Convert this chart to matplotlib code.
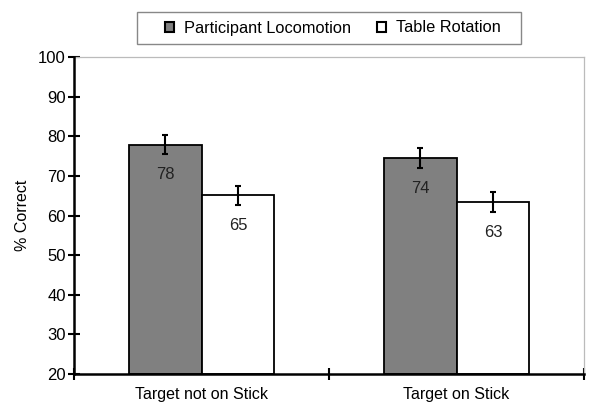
import numpy as np
import matplotlib.pyplot as plt
from matplotlib.patches import Rectangle

plt.rcParams['font.family'] = ['Liberation Sans', 'DejaVu Sans']

conditions = ['Target not on Stick', 'Target on Stick']
series = ['Participant Locomotion', 'Table Rotation']
locomotion = [77.9, 74.5]
rotation = [65.1, 63.4]
locomotion_err = [2.3, 2.5]
rotation_err = [2.4, 2.5]
colors = ['#808080', 'white']

W, H = 590, 405
fig = plt.figure(figsize=(W / 100, H / 100), dpi=100)
ax = fig.add_axes([74 / W, 1 - 374 / H, 510 / W, 317 / H])

x = np.arange(len(conditions)) + 0.5
w = 0.286
for vals, errs, col, off in [(locomotion, locomotion_err, colors[0], -w / 2),
                             (rotation, rotation_err, colors[1], w / 2)]:
    ax.bar(x + off, np.array(vals) - 20, w, bottom=20, color=col,
           edgecolor='black', linewidth=1.3, zorder=2)
    ax.errorbar(x + off, vals, yerr=errs, fmt='none', ecolor='black',
                elinewidth=1.5, capsize=2.5, capthick=1.5, zorder=3)
    for xi, v in zip(x + off, vals):
        ax.text(xi, v - 7.6, '%.0f' % v, ha='center', va='center',
                fontsize=12, color='#222222', zorder=4)

ax.set_xlim(0, 2)
ax.set_ylim(20, 100)
ax.set_yticks(np.arange(20, 101, 10))
ax.set_xticks([0, 1, 2])
ax.set_xticklabels([])
ax.set_xticks(x, minor=True)
ax.set_xticklabels(conditions, minor=True)
ax.tick_params(axis='x', which='minor', length=0, pad=9, labelsize=11.5)
ax.tick_params(axis='x', which='major', direction='inout', length=8, width=1.5)
ax.tick_params(axis='y', direction='inout', length=8, width=1.5, labelsize=12, pad=2)
ax.set_ylabel('% Correct', fontsize=11.5, labelpad=6)

for s in ['left', 'bottom']:
    ax.spines[s].set_linewidth(1.8)
    ax.spines[s].set_zorder(5)
for s in ['top', 'right']:
    ax.spines[s].set_color('#bbbbbb')
    ax.spines[s].set_linewidth(0.9)

# legend entries, with the box drawn separately (Excel-style padding)
handles = [Rectangle((0, 0), 1, 1, facecolor=c, edgecolor='black', linewidth=1.5) for c in colors]
fig.legend(handles, series, loc='center', ncol=2,
           bbox_to_anchor=(333 / W, 1 - 28 / H), fontsize=11.8,
           frameon=False, handlelength=0.55, handleheight=0.55,
           handletextpad=0.6, columnspacing=1.6, borderpad=0, borderaxespad=0)
fig.patches.append(Rectangle((137 / W, 1 - 44 / H), 384 / W, 32 / H,
                             transform=fig.transFigure, fill=False,
                             edgecolor='#888888', linewidth=1.0))

fig.savefig('out.png', dpi=100)
